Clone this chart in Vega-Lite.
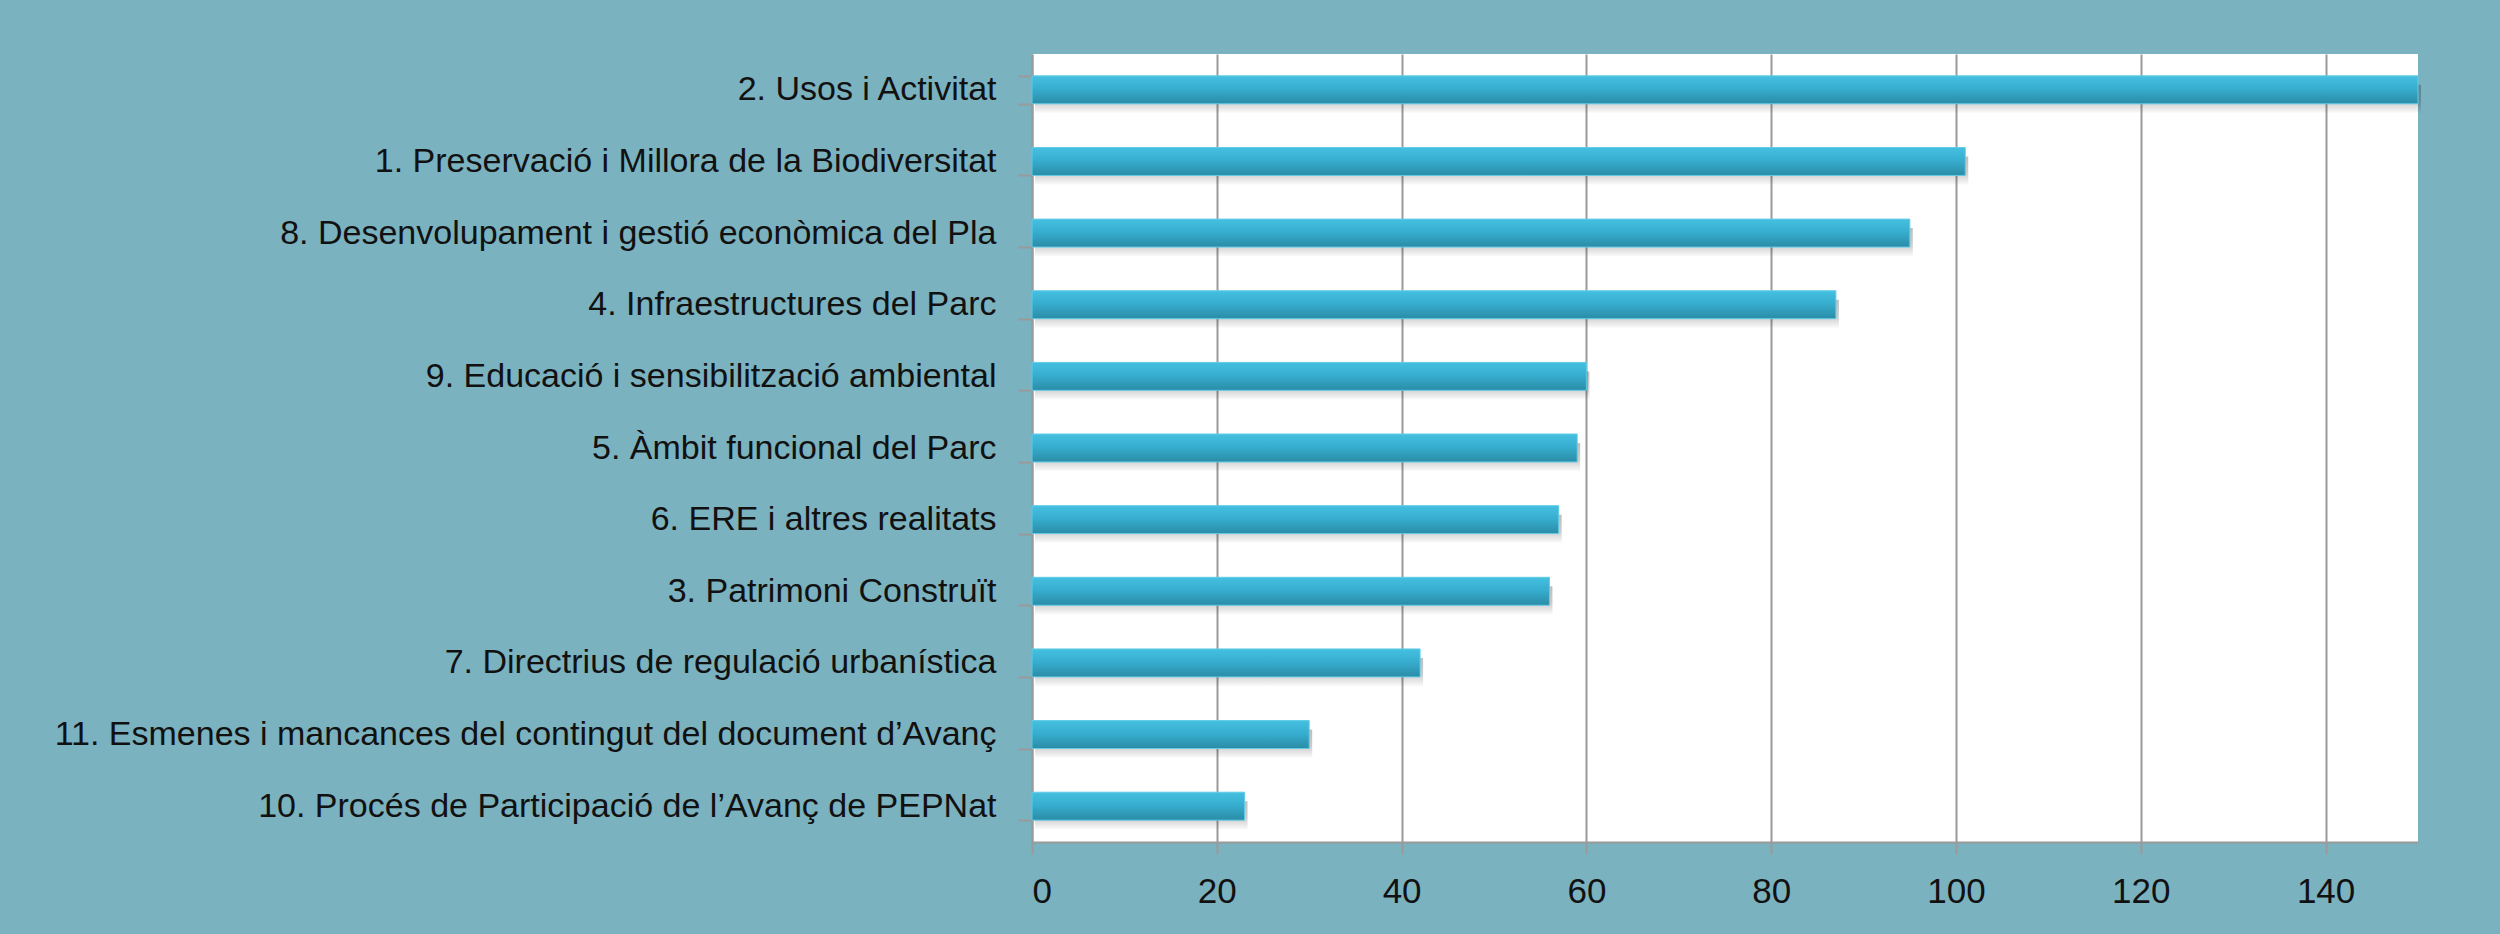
{
  "$schema": "https://vega.github.io/schema/vega-lite/v6.json",
  "width": 1386,
  "height": 788,
  "autosize": {"type": "none"},
  "padding": {"left": 1032, "top": 54, "right": 82, "bottom": 92},
  "background": "#7BB2C0",
  "config": {
    "view": {"fill": "white", "stroke": null},
    "font": "Liberation Sans"
  },
  "data": {
    "values": [
      {"category": "2. Usos i Activitat", "count": 150},
      {"category": "1. Preservació i Millora de la Biodiversitat", "count": 101},
      {"category": "8. Desenvolupament i gestió econòmica del Pla", "count": 95},
      {"category": "4. Infraestructures del Parc", "count": 87},
      {"category": "9. Educació i sensibilització ambiental", "count": 60},
      {"category": "5. Àmbit funcional del Parc", "count": 59},
      {"category": "6. ERE i altres realitats", "count": 57},
      {"category": "3. Patrimoni Construït", "count": 56},
      {"category": "7. Directrius de regulació urbanística", "count": 42},
      {"category": "11. Esmenes i mancances del contingut del document d’Avanç", "count": 30},
      {"category": "10. Procés de Participació de l’Avanç de PEPNat", "count": 23}
    ]
  },
  "encoding": {
    "y": {
      "field": "category",
      "type": "nominal",
      "sort": null,
      "scale": {"paddingInner": 0.61, "paddingOuter": 0.305},
      "axis": {
        "title": null,
        "tickBand": "extent",
        "tickSize": 14,
        "tickColor": "#9a9a9a",
        "tickWidth": 2,
        "domainColor": "#9a9a9a",
        "domainWidth": 2,
        "labelFontSize": 34,
        "labelColor": "#111111",
        "labelPadding": 22,
        "labelLimit": 1200,
        "grid": false
      }
    },
    "x": {
      "field": "count",
      "type": "quantitative",
      "scale": {"domain": [0, 150], "nice": false},
      "axis": {
        "title": null,
        "values": [0, 20, 40, 60, 80, 100, 120, 140],
        "grid": true,
        "gridColor": "#9a9a9a",
        "gridWidth": 2,
        "tickSize": 12,
        "tickColor": "#9a9a9a",
        "tickWidth": 2,
        "domainColor": "#9a9a9a",
        "domainWidth": 2,
        "labelFontSize": 35,
        "labelColor": "#111111",
        "labelPadding": 20
      }
    }
  },
  "layer": [
    {
      "mark": {
        "type": "bar",
        "yOffset": 9,
        "xOffset": 3,
        "fill": {
          "gradient": "linear", "x1": 0, "y1": 0, "x2": 0, "y2": 1,
          "stops": [
            {"offset": 0, "color": "rgba(0,0,0,0.25)"},
            {"offset": 0.6, "color": "rgba(0,0,0,0.2)"},
            {"offset": 1, "color": "rgba(0,0,0,0.02)"}
          ]
        }
      }
    },
    {
      "mark": {
        "type": "bar",
        "stroke": "#62CBE6",
        "strokeWidth": 1,
        "fill": {
          "gradient": "linear", "x1": 0, "y1": 0, "x2": 0, "y2": 1,
          "stops": [
            {"offset": 0, "color": "#45C0E0"},
            {"offset": 0.45, "color": "#37AED0"},
            {"offset": 1, "color": "#2A8CA6"}
          ]
        }
      }
    }
  ]
}
